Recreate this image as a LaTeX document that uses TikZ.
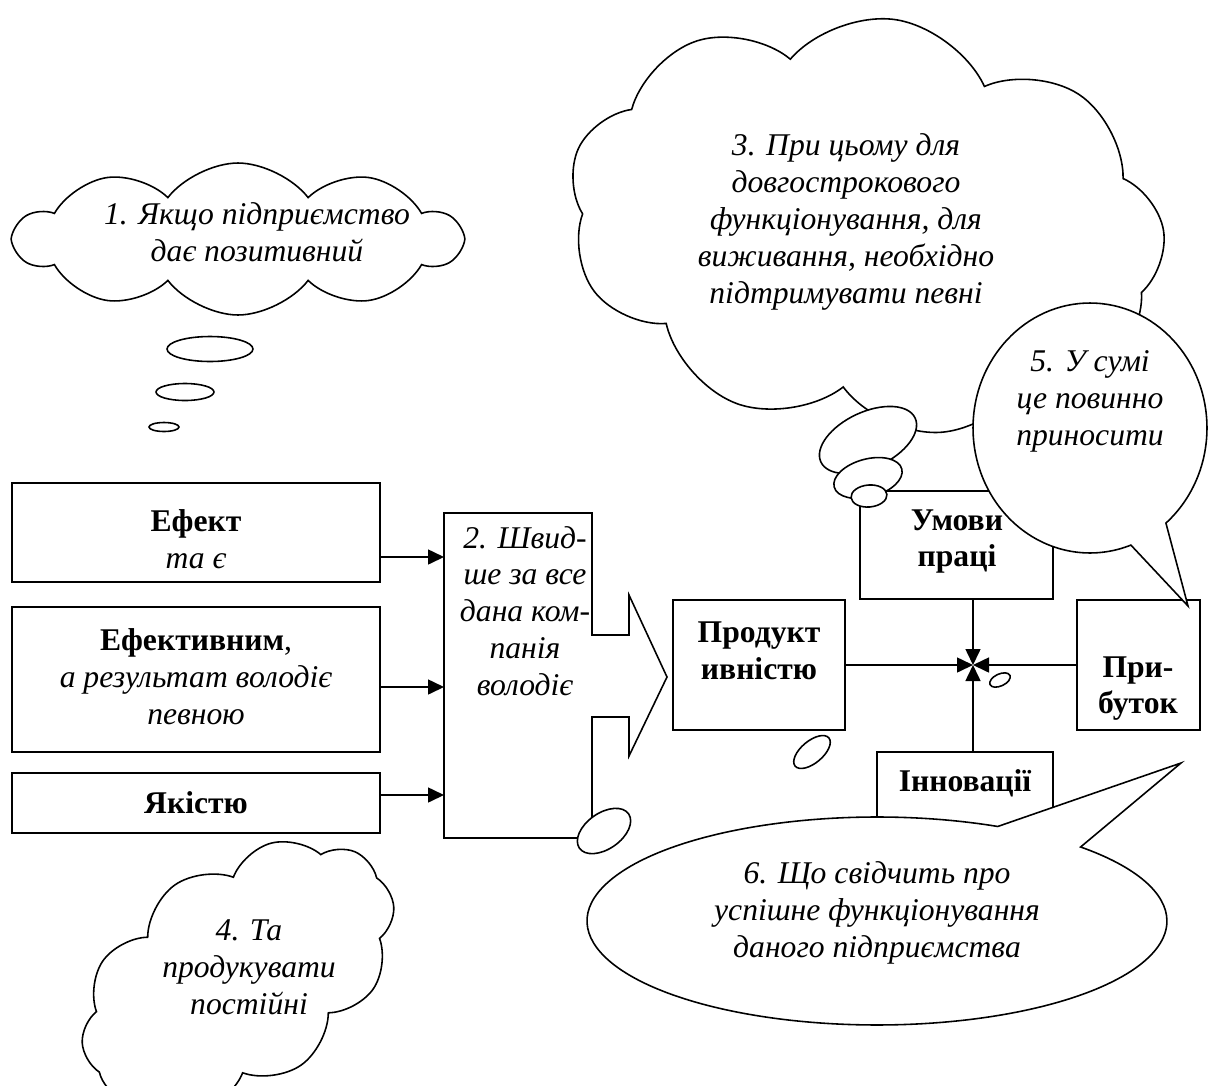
\documentclass[tikz,border=0pt]{standalone}
\usepackage{fontspec}
\setmainfont{Liberation Serif}
\usetikzlibrary{arrows.meta,shapes.symbols,shapes.callouts,shapes.geometric}

\tikzset{
  txt/.style={align=center, inner sep=0pt, font=\fontsize{18pt}{21pt}\selectfont\itshape},
  btxt/.style={align=center, inner sep=0pt, font=\fontsize{18pt}{21pt}\selectfont\bfseries},
  box/.style={draw, line width=0.9pt, fill=white, inner sep=0pt},
  arr/.style={line width=0.9pt, -{Triangle[length=0.32cm,width=0.3cm]}},
  bubble/.style={ellipse, draw, line width=0.9pt, fill=white, inner sep=0pt},
  puff/.style={cloud, draw, line width=0.9pt, fill=white, cloud ignores aspect, inner sep=0pt},
  balloon/.style={ellipse callout, draw, line width=0.9pt, fill=white, inner sep=0pt, callout pointer arc=20}
}

\begin{document}
\begin{tikzpicture}[x=0.02cm, y=-0.02cm]
\useasboundingbox (0,0) rectangle (1208,1086);
% Cloud 1 and its trail
\node[puff, cloud puffs=10, cloud puff arc=105, minimum width=8.9cm, minimum height=3.04cm] (cl1) at (238,239) {};
\node[txt] (cl1t) at (257,232) {1. Якщо підприємство\\дає позитивний};
\node[bubble, minimum width=1.72cm, minimum height=0.5cm] (tr1a) at (210,349) {};
\node[bubble, minimum width=1.16cm, minimum height=0.34cm] (tr1b) at (185,392) {};
\node[bubble, minimum width=0.6cm, minimum height=0.18cm] (tr1c) at (164,427) {};
% Cloud 3
\node[puff, cloud puffs=9, cloud puff arc=115, minimum width=12cm, minimum height=8.3cm, rotate=-8] (cl3) at (866,225) {};
\node[txt] (cl3t) at (846,222) {3. При цьому для\\довгострокового\\функціонування, для\\виживання, необхідно\\підтримувати певні};
% Left boxes
\node[box, minimum width=7.36cm, minimum height=1.98cm] (efekt) at (196,532.5) {};
\node[txt] (efektt) at (196,539.5) {\textbf{\upshape Ефект}\\та є};
\node[box, minimum width=7.36cm, minimum height=2.9cm] (efektyv) at (196,679.5) {};
\node[txt] (efektyvt) at (196,677) {\textbf{\upshape Ефективним}\upshape,\\а результат володіє\\певною};
\node[box, minimum width=7.36cm, minimum height=1.2cm] (yakist) at (196,803) {};
\node[btxt] (yakistt) at (196,803) {Якістю};
% Block arrow 2
\draw[line width=0.9pt] (444,513) coordinate (blk) -- (592,513) -- (592,635) -- (629,635)
  -- (629,595) -- (667,677) coordinate (blktip) -- (629,756) -- (629,717) -- (592,717)
  -- (592,838) -- (444,838) -- cycle;
\node[txt] (blkt) at (525,611) {2. Швид-\\ше за все\\дана ком-\\панія\\володіє};
\coordinate (in1) at (444,557);
\coordinate (in2) at (444,687);
\coordinate (in3) at (444,795);
\draw[arr] (efekt.east |- in1) -- (in1);
\draw[arr] (efektyv.east |- in2) -- (in2);
\draw[arr] (yakist.east |- in3) -- (in3);
% Right boxes
\node[box, minimum width=3.44cm, minimum height=2.6cm] (prod) at (759,665) {};
\node[btxt] (prodt) at (759,651) {Продукт\\ивністю};
\node[box, minimum width=3.86cm, minimum height=2.16cm] (umovy) at (956.5,545) {};
\node[btxt] (umovyt) at (957,541.5) {Умови\\праці};
\node[box, minimum width=2.46cm, minimum height=2.6cm] (prybutok) at (1138.5,665) {};
\node[btxt] (prybutokt) at (1138,688.5) {При-\\буток};
\node[box, minimum width=3.52cm, minimum height=1.56cm] (innov) at (965,791) {};
\node[btxt] (innovt) at (965,783) {Інновації};
\coordinate (hub) at (973,665);
\draw[arr] (prod.east |- hub) -- (hub);
\draw[arr] (prybutok.west |- hub) -- (hub);
\draw[arr] (umovy.south -| hub) -- (hub);
\draw[arr] (innov.north -| hub) -- (hub);
% Trail of cloud 3
\node[bubble, minimum width=2.08cm, minimum height=1.12cm, rotate=25] (tr3a) at (868,440) {};
\node[bubble, minimum width=1.4cm, minimum height=0.76cm, rotate=15] (tr3b) at (868,478) {};
\node[bubble, minimum width=0.72cm, minimum height=0.44cm, rotate=5] (tr3c) at (869,496) {};
% Loose bubbles
\node[bubble, minimum width=0.88cm, minimum height=0.44cm, rotate=40] (dot1) at (812,752) {};
\node[bubble, minimum width=0.44cm, minimum height=0.24cm, rotate=25] (dot2) at (1000,680) {};
\node[bubble, minimum width=1.2cm, minimum height=0.72cm, rotate=35] (dot3) at (604,831) {};
% Callouts 5 and 6
\node[balloon, minimum width=4.68cm, minimum height=5cm, callout absolute pointer={(1188,606)}] (c5) at (1090,428) {};
\node[txt] (c5t) at (1090,401) {5. У сумі\\це повинно\\приносити};
\node[balloon, minimum width=11.6cm, minimum height=4.16cm, callout absolute pointer={(1181,763)}] (c6) at (877,921) {};
\node[txt] (c6t) at (877,913) {6. Що свідчить про\\успішне функціонування\\даного підприємства};
% Cloud 4
\node[puff, cloud puffs=10, cloud puff arc=110, minimum width=7cm, minimum height=4.4cm, rotate=35] (cl4) at (238,975) {};
\node[txt] (cl4t) at (249,967) {4. Та\\продукувати\\постійні};
\end{tikzpicture}
\end{document}
